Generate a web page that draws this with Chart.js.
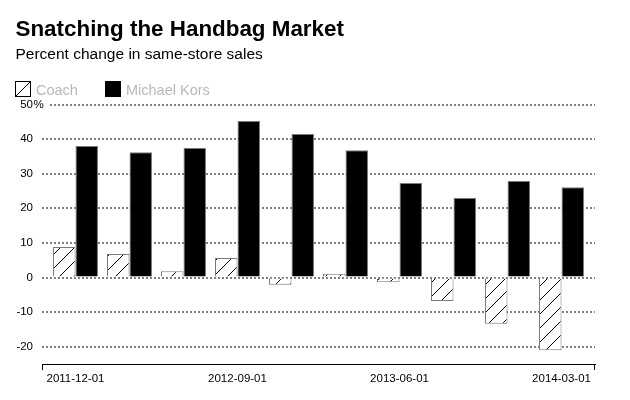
<!DOCTYPE html>
<html>
<head>
<meta charset="utf-8">
<script src="https://cdn.jsdelivr.net/npm/chart.js@4/dist/chart.umd.min.js"></script>
<style>
html,body{margin:0;padding:0;background:#fff;}
#wrap{width:630px;height:400px;}
</style>
</head>
<body>
<div id="wrap"><canvas id="c" width="630" height="400"></canvas></div>
<script>
// ---- data ----
const categories = ['2011-12-01','2012-03-01','2012-06-01','2012-09-01','2012-12-01','2013-03-01','2013-06-01','2013-09-01','2013-12-01','2014-03-01'];
const coach = [8.8, 6.8, 1.8, 5.6, -2.1, 1.1, -1.4, -6.8, -13.4, -21.0];
const kors  = [38.0, 36.2, 37.4, 45.2, 41.5, 36.8, 27.3, 23.0, 27.9, 26.1];
const xTickLabels = ['2011-12-01','2012-09-01','2013-06-01','2014-03-01'];
const yTicks = [-20, -10, 0, 10, 20, 30, 40, 50];
const seriesNames = ['Coach', 'Michael Kors'];
const titleText = 'Snatching the Handbag Market';
const subtitleText = 'Percent change in same-store sales';

const FONT = "'Liberation Sans', Arial, Helvetica, sans-serif";

// hatch pattern
function makeHatch() {
  const s = 14;
  const p = document.createElement('canvas');
  p.width = s; p.height = s;
  const g = p.getContext('2d');
  g.fillStyle = '#fff';
  g.fillRect(0, 0, s, s);
  g.strokeStyle = '#000';
  g.lineWidth = 1;
  g.beginPath();
  g.moveTo(0, s); g.lineTo(s, 0);
  g.moveTo(-s/2, s/2); g.lineTo(s/2, -s/2);
  g.moveTo(s/2, s + s/2); g.lineTo(s + s/2, s/2);
  g.stroke();
  return document.getElementById('c').getContext('2d').createPattern(p, 'repeat');
}
const hatch = makeHatch();

const header = {
  id: 'header',
  afterDraw(chart) {
    const ctx = chart.ctx;
    const ca = chart.chartArea;
    ctx.save();
    // title
    ctx.textAlign = 'left';
    ctx.textBaseline = 'alphabetic';
    ctx.fillStyle = '#000';
    ctx.font = 'bold 22.4px ' + FONT;
    ctx.fillText(titleText, 15.5, 36);
    ctx.font = '15.5px ' + FONT;
    ctx.fillText(subtitleText, 15.5, 58.5);
    // legend
    const items = [
      {x: 15, fill: hatch, text: seriesNames[0]},
      {x: 105, fill: '#000', text: seriesNames[1]}
    ];
    ctx.font = '14.5px ' + FONT;
    items.forEach(it => {
      ctx.fillStyle = it.fill;
      ctx.fillRect(it.x, 81, 15, 15);
      ctx.strokeStyle = '#000';
      ctx.lineWidth = 1;
      ctx.strokeRect(it.x + 0.5, 81.5, 15, 15);
      ctx.fillStyle = '#b9b9b9';
      ctx.fillText(it.text, it.x + 21, 94.5);
    });
    // percent sign on the top y label
    const ys = chart.scales.y;
    const y50 = ys.getPixelForValue(50);
    ctx.fillStyle = '#fff';
    ctx.fillRect(ca.left - 1, y50 - 3, 8, 6);
    ctx.fillStyle = '#000';
    ctx.font = '11.5px ' + FONT;
    ctx.textBaseline = 'middle';
    ctx.fillText('%', 33.5, y50);
    // end ticks of x axis
    ctx.strokeStyle = '#000';
    ctx.lineWidth = 1;
    ctx.beginPath();
    ctx.moveTo(Math.round(ca.left) + 0.5, ca.bottom);
    ctx.lineTo(Math.round(ca.left) + 0.5, ca.bottom + 6);
    ctx.moveTo(Math.round(ca.right) - 0.5, ca.bottom);
    ctx.lineTo(Math.round(ca.right) - 0.5, ca.bottom + 6);
    ctx.stroke();
    ctx.restore();
  }
};

new Chart(document.getElementById('c'), {
  type: 'bar',
  data: {
    datasets: [
      {
        label: seriesNames[0],
        data: categories.map((c, i) => ({x: i, y: coach[i]})),
        backgroundColor: hatch,
        borderColor: '#7a7a7a',
        borderWidth: 1
      },
      {
        label: seriesNames[1],
        data: categories.map((c, i) => ({x: i, y: kors[i]})),
        backgroundColor: '#000',
        borderColor: '#7a7a7a',
        borderWidth: 1
      }
    ]
  },
  options: {
    responsive: false,
    animation: false,
    devicePixelRatio: 1,
    barPercentage: 1.0,
    categoryPercentage: 0.833,
    layout: {padding: {left: 15, right: 35, top: 104.5, bottom: 0}},
    plugins: {
      legend: {display: false},
      title: {display: false},
      tooltip: {enabled: false}
    },
    scales: {
      x: {
        type: 'linear',
        offset: false,
        min: -0.62,
        max: 9.62,
        afterBuildTicks: s => { s.ticks = xTickLabels.map(l => ({value: categories.indexOf(l)})); },
        afterFit: s => { s.height = 36; },
        grid: {display: false, drawTicks: false},
        border: {display: true, color: '#000', width: 1},
        ticks: {
          autoSkip: false,
          maxRotation: 0,
          padding: 8,
          color: '#000',
          font: {family: FONT, size: 11.5},
          callback: v => categories[v]
        }
      },
      y: {
        min: -25,
        max: 50,
        afterBuildTicks: s => { s.ticks = yTicks.map(v => ({value: v})); },
        afterFit: s => { s.width = 27; },
        grid: {
          color: '#808080',
          lineWidth: 2,
          drawTicks: false
        },
        border: {display: false, dash: [2, 2]},
        ticks: {
          padding: 9,
          color: '#000',
          font: {family: FONT, size: 11.5},
          callback: v => String(v)
        }
      }
    }
  },
  plugins: [header]
});
</script>
</body>
</html>
